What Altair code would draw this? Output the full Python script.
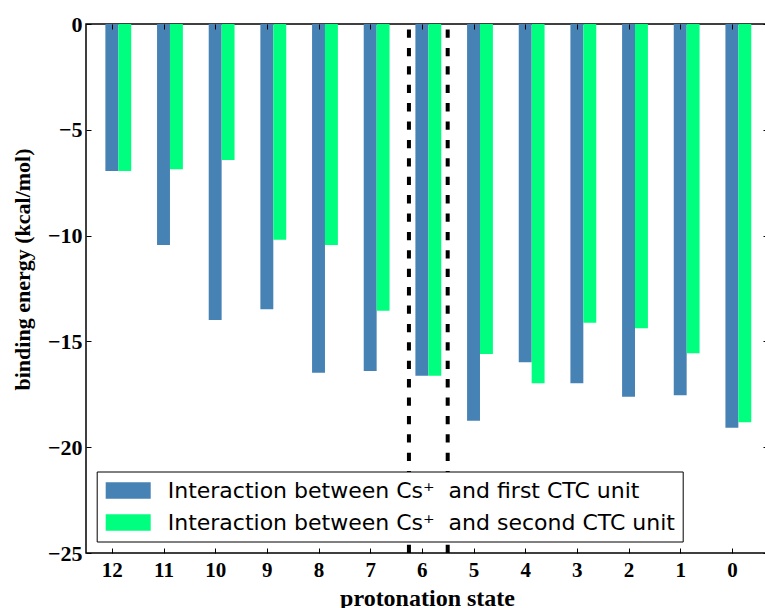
import altair as alt
import pandas as pd

# ---- data ----
states = [12, 11, 10, 9, 8, 7, 6, 5, 4, 3, 2, 1, 0]
first_unit = [-6.95, -10.44, -13.99, -13.48, -16.48, -16.40, -16.62,
              -18.75, -15.99, -16.98, -17.61, -17.55, -19.08]
second_unit = [-6.95, -6.87, -6.43, -10.20, -10.44, -13.55, -16.62,
               -15.60, -16.98, -14.12, -14.38, -15.56, -18.82]
series_names = [
    "Interaction between Cs\u207a\u00a0 and first CTC unit",
    "Interaction between Cs\u207a\u00a0 and second CTC unit",
]
series_colors = ["#4682B4", "#00FF7F"]
divider_states = [6.25, 5.5]
tick_states = list(range(13))
y_ticks = [0, -5, -10, -15, -20, -25]

rows = []
for k, (name, vals) in enumerate([(series_names[0], first_unit), (series_names[1], second_unit)]):
    for s, v in zip(states, vals):
        rows.append({"state": s, "series": name, "k": k, "value": v})
df = pd.DataFrame(rows)
div_df = pd.DataFrame({"pos": divider_states})

SERIF = "Liberation Serif"
x_scale = alt.Scale(domain=[12.5, -0.699], nice=False, zero=False)
y_scale = alt.Scale(domain=[-25, 0], nice=False, zero=False)

# axes are pulled 5 px into the plot so that their ticks point inward
main_x_axis = alt.Axis(
    orient="bottom", offset=-5, values=tick_states, format="d", grid=False,
    domain=False, ticks=True, tickSize=5, tickColor="black", tickWidth=1,
    labelPadding=6, labelFlush=False, labelOverlap=False,
    labelFont=SERIF, labelFontWeight="bold", labelFontSize=21, labelColor="black",
    title="protonation state", titleFont=SERIF, titleFontWeight="bold",
    titleFontSize=24, titleColor="black", titleY=57, titleBaseline="alphabetic",
    zindex=1,
)
main_y_axis = alt.Axis(
    orient="left", offset=-5, values=y_ticks, grid=False,
    domain=False, ticks=True, tickSize=5, tickColor="black", tickWidth=1,
    labelPadding=4, labelFlush=False, labelOverlap=False,
    labelFont=SERIF, labelFontWeight="bold", labelFontSize=22, labelColor="black",
    title="binding energy (kcal/mol)", titleFont=SERIF, titleFontWeight="bold",
    titleFontSize=22, titleColor="black", titleX=-62, titleY=245,
    titleAlign="center", titleBaseline="alphabetic", titleAngle=270,
    zindex=1,
)
top_axis = alt.Axis(
    orient="top", offset=-5, values=tick_states, grid=False, domain=False,
    ticks=True, tickSize=5, tickColor="black", tickWidth=1,
    labels=False, title=None, zindex=1,
)
right_axis = alt.Axis(
    orient="right", offset=-5, values=y_ticks, grid=False, domain=False,
    ticks=True, tickSize=5, tickColor="black", tickWidth=1,
    labels=False, title=None, zindex=1,
)

legend = alt.Legend(
    orient="none", legendX=10.7, legendY=447.5, title=None,
    strokeColor="black", fillColor="white", padding=7, cornerRadius=0,
    symbolType="M-1,-0.367H1V0.367H-1Z", symbolSize=2025, symbolOffset=2,
    symbolStrokeWidth=0, symbolOpacity=1,
    labelFont="DejaVu Sans", labelFontSize=22, labelColor="black",
    labelOffset=17, labelLimit=800, clipHeight=24, rowPadding=8,
)

bars = alt.Chart(df).transform_calculate(
    xa="datum.k == 0 ? datum.state + 0.125 : datum.state - 0.125",
).transform_calculate(
    xb="datum.xa - 0.25",
).mark_bar(opacity=1).encode(
    x=alt.X("xa:Q", scale=x_scale, axis=main_x_axis),
    x2="xb:Q",
    y=alt.Y("value:Q", scale=y_scale, axis=main_y_axis),
    y2=alt.Y2(datum=0),
    color=alt.Color("series:N", scale=alt.Scale(domain=series_names, range=series_colors),
                    legend=legend),
)

rules = alt.Chart(div_df).mark_rule(
    color="black", strokeWidth=4, strokeDash=[8.3, 10.1]
).encode(
    x=alt.X("pos:Q", scale=x_scale, axis=top_axis),
    y=alt.Y(datum=-25, scale=y_scale, axis=right_axis),
    y2=alt.Y2(datum=0),
)

chart = alt.layer(bars, rules).resolve_axis(
    x="independent", y="independent"
).properties(
    width=682, height=529,
    autosize=alt.AutoSizeParams(type="none"),
    padding={"left": 86, "top": 24, "right": -3, "bottom": 55},
    background="white",
).configure_view(stroke="black", strokeWidth=1.5)

chart.save("out.html", embed_options={"renderer": "svg", "actions": False})
